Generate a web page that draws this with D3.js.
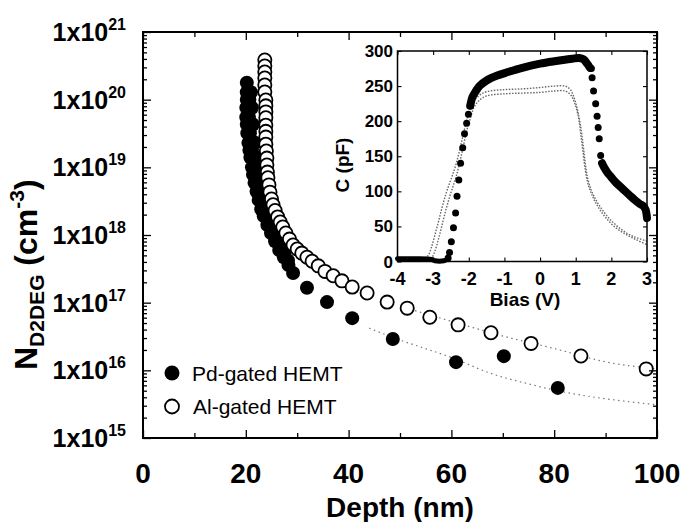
<!DOCTYPE html>
<html>
<head>
<meta charset="utf-8">
<script src="https://cdn.jsdelivr.net/npm/d3@7"></script>
<style>
  body { margin: 0; background: #fff; }
  svg { display: block; font-family: "Liberation Sans", Arial, sans-serif; }
  .axis path { display: none; }
  .axis line { stroke: #000; stroke-width: 1.3; }
</style>
</head>
<body>
<svg id="chart" width="685" height="522"></svg>
<script>
// ---- main panel: N_2DEG vs depth ----
const pdDepth = [20.2, 20.2, 20.2, 20.1, 20.1, 20.2, 20.3, 20.5, 20.7, 20.9, 21.2, 21.4, 21.7, 22.1, 22.5, 23.0, 23.5, 24.2, 24.9, 25.7, 26.5, 27.4, 28.3,
                 21.0, 21.2, 21.4, 21.8, 22.2, 22.7, 23.3, 24.1, 25.1, 26.3,
                 20.7, 20.6, 20.8, 21.2, 21.7, 22.2, 22.7, 23.2, 23.7, 24.4, 25.1, 25.9, 26.7, 27.5, 28.2,
                 29.2, 31.9, 35.8, 40.7, 48.6, 60.9, 70.2, 80.7];
const pdN = [1.78e20, 1.29e20, 1.0e20, 7.6e19, 5.5e19, 4.3e19, 3.2e19, 2.3e19, 1.8e19, 1.4e19, 1.0e19, 7.8e18, 5.9e18, 4.4e18, 3.3e18, 2.4e18, 1.9e18, 1.4e18, 1.07e18, 8.1e17, 6.0e17, 4.7e17, 3.6e17,
             1.29e20, 7.6e19, 4.3e19, 2.3e19, 1.4e19, 7.8e18, 4.4e18, 2.4e18, 1.4e18, 8.1e17,
             1.0e20, 5.5e19, 3.2e19, 1.8e19, 1.0e19, 5.9e18, 3.8e18, 2.9e18, 2.1e18, 1.62e18, 1.23e18, 9.3e17, 7.1e17, 5.4e17, 4.2e17,
             2.75e17, 1.66e17, 1.02e17, 5.9e16, 2.9e16, 1.32e16, 1.62e16, 5.5e15];

const alDepth = [23.7, 23.7, 23.7, 23.7, 23.7, 23.7, 23.9, 23.9, 23.9, 23.9, 23.9, 23.9, 23.9, 23.9, 24.0, 24.1, 24.1, 24.2, 24.3, 24.5,
                 24.7, 25.0, 25.3, 25.7, 26.2, 26.7, 27.2, 27.8, 28.5, 29.2, 30.0, 30.9, 31.9, 32.9, 34.1, 35.4, 37.0, 38.7, 40.7, 43.6,
                 47.5, 51.4, 55.8, 61.3, 67.7, 75.5, 85.2, 97.9];
const alN = [3.85e20, 3.15e20, 2.56e20, 2.09e20, 1.65e20, 1.30e20, 9.9e19, 8.1e19, 6.6e19, 5.4e19, 4.2e19, 3.4e19, 2.8e19, 2.2e19, 1.74e19, 1.37e19, 1.08e19, 8.5e18, 7.0e18, 5.5e18,
             4.3e18, 3.4e18, 2.8e18, 2.3e18, 1.85e18, 1.56e18, 1.31e18, 1.07e18, 8.7e17, 7.1e17, 6.2e17, 5.4e17, 4.7e17, 4.1e17, 3.5e17, 2.9e17, 2.5e17, 2.1e17, 1.7e17, 1.39e17,
             1.02e17, 8.3e16, 6.1e16, 4.7e16, 3.6e16, 2.5e16, 1.63e16, 1.05e16];

// dotted fit curves
const pdFitDepth = [44, 50, 54.5, 60, 67.5, 75, 83, 90, 100];
const pdFitN = [4.2e16, 2.8e16, 2.15e16, 1.55e16, 9.1e15, 6.3e15, 4.6e15, 3.8e15, 3.1e15];
const alFitDepth = [52, 60, 70.8, 80, 90.3, 100];
const alFitN = [8.0e16, 5.3e16, 3.1e16, 2.1e16, 1.32e16, 1.05e16];

const depthTicks = [0, 20, 40, 60, 80, 100];
const depthMinor = [10, 30, 50, 70, 90];
const decades = [15, 16, 17, 18, 19, 20, 21];

// ---- inset: C-V ----
const pdBaseBias = [-4, -3.5, -3.05, -2.95, -2.7, -2.6];
const pdBaseC = [4, 4, 3, 1, 1, 3];
const pdRiseBias = [-2.58, -2.54, -2.49, -2.43, -2.37, -2.33, -2.28, -2.23, -2.17, -2.12, -2.06, -2.01, -1.96];
const pdRiseC = [5, 13, 28, 48, 69, 93, 116, 140, 162, 182, 197, 210, 222];
const pdTopBias = [-1.96, -1.9, -1.8, -1.7, -1.5, -1.2, -0.9, -0.5, 0, 0.5, 0.9, 1.1, 1.22, 1.32, 1.4];
const pdTopC = [222, 234, 243, 250, 258, 265, 270, 276, 282, 286, 289, 290, 288, 282, 276];
const pdFallBias = [1.44, 1.46, 1.50, 1.56, 1.60, 1.63, 1.66, 1.70, 1.74];
const pdFallC = [275, 262, 243, 225, 207, 191, 175, 151, 140];
const pdTailBias = [1.74, 1.8, 1.9, 2.0, 2.1, 2.2, 2.35, 2.5, 2.65, 2.8, 2.9, 2.96, 3.0];
const pdTailC = [140, 134, 126, 120, 114, 109, 102, 95, 88, 82, 79, 74, 62];

const alOuterBias = [-4, -3.3, -3.15, -3.05, -2.95, -2.85, -2.75, -2.65, -2.55, -2.45, -2.35, -2.25, -2.15, -2.05, -1.95, -1.85, -1.7, -1.5, -1.0, -0.5, 0, 0.4, 0.7, 0.85, 0.95, 1.05, 1.12, 1.18, 1.25, 1.33, 1.45, 1.6, 1.8, 2.0, 2.3, 2.6, 3.0];
const alOuterC = [5, 5, 8, 20, 38, 57, 77, 95, 110, 124, 140, 160, 182, 203, 218, 229, 237, 242, 245, 246, 248, 250, 250, 245, 234, 216, 198, 178, 148, 120, 100, 85, 70, 58, 45, 36, 29];
const alInnerBias = [-4, -3.2, -3.05, -2.95, -2.85, -2.75, -2.65, -2.55, -2.45, -2.35, -2.25, -2.15, -2.05, -1.95, -1.85, -1.7, -1.5, -1.0, -0.5, 0, 0.4, 0.7, 0.85, 0.97, 1.08, 1.14, 1.2, 1.27, 1.36, 1.5, 1.65, 1.85, 2.1, 2.4, 2.7, 3.0];
const alInnerC = [3, 3, 5, 15, 32, 52, 72, 90, 106, 122, 142, 165, 188, 205, 220, 230, 236, 239, 240, 241, 243, 243, 238, 226, 205, 182, 158, 130, 108, 90, 76, 62, 49, 39, 31, 24];

const biasTicks = [-4, -3, -2, -1, 0, 1, 2, 3];
const capTicks = [0, 50, 100, 150, 200, 250, 300];

const zip = (a, b) => a.map((v, i) => [v, b[i]]);

const svg = d3.select("#chart");

const x = d3.scaleLinear().domain([0, 100]).range([143, 657]);
const y = d3.scaleLog().domain([1e15, 1e21]).range([438, 32]);

// fit lines
const fitLine = d3.line().x(d => x(d[0])).y(d => y(d[1])).curve(d3.curveMonotoneX);
[[pdFitDepth, pdFitN], [alFitDepth, alFitN]].forEach(([a, b]) => {
  svg.append("path")
    .attr("d", fitLine(zip(a, b)))
    .attr("fill", "none")
    .attr("stroke", "#777")
    .attr("stroke-width", 1.2)
    .attr("stroke-dasharray", "1.5 3.5");
});

// data points
svg.append("g").selectAll("circle")
  .data(zip(pdDepth, pdN))
  .enter().append("circle")
    .attr("cx", d => x(d[0]))
    .attr("cy", d => y(d[1]))
    .attr("r", 7)
    .attr("fill", "#000");

svg.append("g").selectAll("circle")
  .data(zip(alDepth, alN))
  .enter().append("circle")
    .attr("cx", d => x(d[0]))
    .attr("cy", d => y(d[1]))
    .attr("r", 6.6)
    .attr("fill", "#fff")
    .attr("stroke", "#000")
    .attr("stroke-width", 1.8);

// main axes, ticks pointing in
const majorY = decades.map(e => Math.pow(10, e));
const minorY = y.ticks().filter(v => !majorY.some(m => Math.abs(m - v) / m < 1e-6));

function addAxis(axis, tx, ty) {
  svg.append("g").attr("class", "axis").attr("transform", `translate(${tx},${ty})`).call(axis);
}
addAxis(d3.axisBottom(x).tickValues(depthTicks).tickSize(-8).tickSizeOuter(0).tickFormat(""), 0, 438);
addAxis(d3.axisBottom(x).tickValues(depthMinor).tickSize(-5).tickSizeOuter(0).tickFormat(""), 0, 438);
addAxis(d3.axisTop(x).tickValues(depthTicks).tickSize(-8).tickSizeOuter(0).tickFormat(""), 0, 32);
addAxis(d3.axisTop(x).tickValues(depthMinor).tickSize(-5).tickSizeOuter(0).tickFormat(""), 0, 32);
addAxis(d3.axisLeft(y).tickValues(majorY).tickSize(-8).tickSizeOuter(0).tickFormat(""), 143, 0);
addAxis(d3.axisLeft(y).tickValues(minorY).tickSize(-4).tickSizeOuter(0).tickFormat(""), 143, 0);
addAxis(d3.axisRight(y).tickValues(majorY).tickSize(-8).tickSizeOuter(0).tickFormat(""), 657, 0);
addAxis(d3.axisRight(y).tickValues(minorY).tickSize(-4).tickSizeOuter(0).tickFormat(""), 657, 0);

svg.append("rect")
  .attr("x", 143).attr("y", 32)
  .attr("width", 657 - 143).attr("height", 438 - 32)
  .attr("fill", "none").attr("stroke", "#000").attr("stroke-width", 2);

// tick labels
svg.append("g").selectAll("text")
  .data(depthTicks)
  .enter().append("text")
    .attr("x", d => x(d))
    .attr("y", 483)
    .attr("text-anchor", "middle")
    .attr("font-size", 28)
    .attr("font-weight", "bold")
    .text(d => d);

const yLabels = svg.append("g").selectAll("text")
  .data(decades)
  .enter().append("text")
    .attr("x", 126)
    .attr("y", d => y(Math.pow(10, d)) + 9)
    .attr("text-anchor", "end")
    .attr("font-weight", "bold");
yLabels.append("tspan").attr("font-size", 25).text("1x10");
yLabels.append("tspan").attr("font-size", 16).attr("dy", -11).text(d => d);

// axis titles
svg.append("text")
  .attr("x", 400).attr("y", 517)
  .attr("text-anchor", "middle")
  .attr("font-size", 28).attr("font-weight", "bold")
  .text("Depth (nm)");

const yTitle = svg.append("text")
  .attr("transform", "translate(37,370) rotate(-90)")
  .attr("font-weight", "bold");
yTitle.append("tspan").attr("font-size", 32).text("N");
yTitle.append("tspan").attr("font-size", 21).attr("dy", 7).text("D2DEG");
yTitle.append("tspan").attr("font-size", 32).attr("dy", -7).text(" (cm");
yTitle.append("tspan").attr("font-size", 21).attr("dy", -13).text("-3");
yTitle.append("tspan").attr("font-size", 32).attr("dy", 13).text(")");

// legend
const legend = svg.append("g");
legend.append("circle").attr("cx", 172).attr("cy", 373).attr("r", 7.5).attr("fill", "#000");
legend.append("text").attr("x", 192).attr("y", 381).attr("font-size", 21).text("Pd-gated HEMT");
legend.append("circle").attr("cx", 172).attr("cy", 406.5).attr("r", 7).attr("fill", "#fff")
  .attr("stroke", "#000").attr("stroke-width", 1.8);
legend.append("text").attr("x", 193).attr("y", 414).attr("font-size", 21).text("Al-gated HEMT");

// ---- inset ----
const ix = d3.scaleLinear().domain([-4, 3]).range([397.5, 647]);
const iy = d3.scaleLinear().domain([0, 300]).range([261.5, 51]);
const inset = svg.append("g");

inset.append("rect")
  .attr("x", 397.5).attr("y", 51)
  .attr("width", 647 - 397.5).attr("height", 261.5 - 51)
  .attr("fill", "#fff");

const cvCurve = d3.line().x(d => ix(d[0])).y(d => iy(d[1])).curve(d3.curveCatmullRom);

[[alOuterBias, alOuterC], [alInnerBias, alInnerC]].forEach(([a, b]) => {
  inset.append("path")
    .attr("d", cvCurve(zip(a, b)))
    .attr("fill", "none")
    .attr("stroke", "#666")
    .attr("stroke-width", 1.4)
    .attr("stroke-dasharray", "1.5 1.5");
});

// dense parts of the Pd sweep are drawn as a thick band
[[pdBaseBias, pdBaseC, 5], [pdTopBias, pdTopC, 8], [pdTailBias, pdTailC, 8]].forEach(([a, b, w]) => {
  inset.append("path")
    .attr("d", cvCurve(zip(a, b)))
    .attr("fill", "none")
    .attr("stroke", "#000")
    .attr("stroke-width", w)
    .attr("stroke-linecap", "round");
});

inset.append("g").selectAll("circle")
  .data(zip(pdRiseBias, pdRiseC).concat(zip(pdFallBias, pdFallC)))
  .enter().append("circle")
    .attr("cx", d => ix(d[0]))
    .attr("cy", d => iy(d[1]))
    .attr("r", 3.5)
    .attr("fill", "#000");

function addInsetAxis(axis, tx, ty) {
  inset.append("g").attr("class", "axis").attr("transform", `translate(${tx},${ty})`).call(axis)
    .selectAll("line").style("stroke-width", 1.1);
}
addInsetAxis(d3.axisBottom(ix).tickValues(biasTicks).tickSize(-4).tickSizeOuter(0).tickFormat(""), 0, 261.5);
addInsetAxis(d3.axisTop(ix).tickValues(biasTicks).tickSize(-4).tickSizeOuter(0).tickFormat(""), 0, 51);
addInsetAxis(d3.axisLeft(iy).tickValues(capTicks).tickSize(-4).tickSizeOuter(0).tickFormat(""), 397.5, 0);
addInsetAxis(d3.axisRight(iy).tickValues(capTicks).tickSize(-4).tickSizeOuter(0).tickFormat(""), 647, 0);

inset.append("rect")
  .attr("x", 397.5).attr("y", 51)
  .attr("width", 647 - 397.5).attr("height", 261.5 - 51)
  .attr("fill", "none").attr("stroke", "#000").attr("stroke-width", 1.5);

inset.append("g").selectAll("text")
  .data(biasTicks)
  .enter().append("text")
    .attr("x", d => ix(d))
    .attr("y", 285)
    .attr("text-anchor", "middle")
    .attr("font-size", 18).attr("font-weight", "bold")
    .text(d => d);

inset.append("g").selectAll("text")
  .data(capTicks)
  .enter().append("text")
    .attr("x", 393)
    .attr("y", d => iy(d) + 6)
    .attr("text-anchor", "end")
    .attr("font-size", 17).attr("font-weight", "bold")
    .text(d => d);

inset.append("text")
  .attr("x", 525).attr("y", 306)
  .attr("text-anchor", "middle")
  .attr("font-size", 19).attr("font-weight", "bold")
  .text("Bias (V)");

inset.append("text")
  .attr("transform", "translate(349,165) rotate(-90)")
  .attr("text-anchor", "middle")
  .attr("font-size", 19).attr("font-weight", "bold")
  .text("C (pF)");
</script>
</body>
</html>
